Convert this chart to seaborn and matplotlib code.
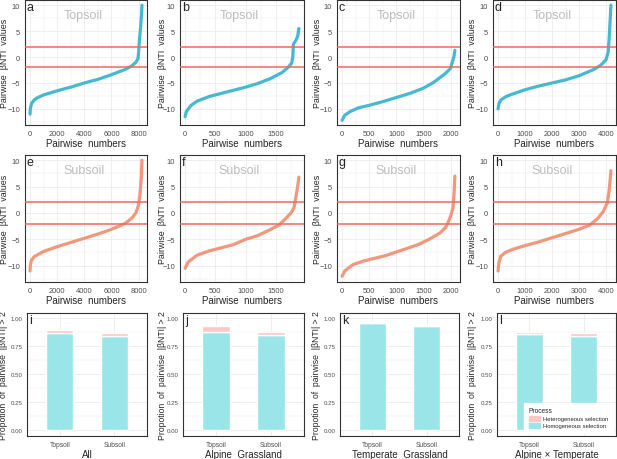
import matplotlib
matplotlib.use("Agg")
import matplotlib.pyplot as plt
from matplotlib.ticker import MultipleLocator, FormatStrFormatter
from matplotlib.patches import Patch
import seaborn as sns

# ---- data -------------------------------------------------------------
# sorted pairwise bNTI curves (pairwise index, bNTI value)
a_x = [0, 20, 100, 300, 500, 1000, 2000, 3000, 4000, 5000, 6000, 7000, 7500, 7800, 7950, 8000, 8050, 8150, 8220, 8244]
a_y = [-11, -10, -9, -8.3, -7.9, -7.3, -6.5, -5.8, -5.0, -4.3, -3.4, -2.4, -1.7, -1.0, -0.3, 1, 3, 6, 8.5, 10]
b_x = [0, 20, 100, 200, 400, 600, 800, 1000, 1200, 1400, 1600, 1700, 1760, 1780, 1790, 1830, 1860, 1880]
b_y = [-11.5, -10.5, -9.3, -8.5, -7.6, -7.0, -6.4, -5.8, -5.1, -4.2, -3.0, -2.0, -1.2, 0, 2.5, 3.2, 4.0, 5.5]
c_x = [0, 50, 150, 300, 500, 750, 1000, 1250, 1500, 1700, 1900, 2000, 2030, 2060, 2080]
c_y = [-12.2, -11.2, -10.5, -9.8, -9.3, -8.6, -7.8, -7.0, -6.0, -4.8, -3.2, -2.2, -1.0, 0, 1.3]
d_x = [0, 30, 100, 300, 500, 1000, 1500, 2000, 2500, 3000, 3500, 3800, 4000, 4080, 4120, 4160, 4180]
d_y = [-10, -9, -8.3, -7.6, -7.2, -6.3, -5.6, -5.0, -4.4, -3.6, -2.5, -1.6, -0.5, 1, 4, 8, 10]
e_x = [0, 20, 100, 300, 1000, 2000, 3000, 4000, 5000, 6000, 7000, 7500, 7800, 8000, 8100, 8200, 8250]
e_y = [-11, -10, -9, -8.3, -7.3, -6.4, -5.6, -4.8, -4.0, -3.1, -2.0, -1.0, 0, 1.5, 3.5, 6.5, 10]
f_x = [0, 50, 200, 400, 600, 800, 1000, 1200, 1400, 1550, 1650, 1750, 1800, 1830, 1860, 1880]
f_y = [-10.5, -9.3, -8.0, -7.2, -6.6, -6.0, -5.0, -4.3, -3.2, -2.3, -1.2, 0, 1, 3, 5, 6.8]
g_x = [0, 50, 200, 400, 600, 800, 1000, 1200, 1400, 1600, 1800, 1900, 1950, 2000, 2040, 2060, 2075]
g_y = [-12, -11, -9.8, -9.1, -8.6, -8.1, -7.4, -6.7, -6.0, -5.0, -3.8, -2.8, -1.8, -0.5, 1, 3.8, 7]
h_x = [0, 30, 100, 300, 600, 1000, 1500, 2000, 2500, 3000, 3400, 3700, 3900, 4050, 4120, 4180]
h_y = [-11, -9.5, -8.2, -7.4, -6.8, -6.2, -5.5, -4.7, -3.9, -3.1, -2.3, -1.0, 0.3, 2, 4.5, 8]

layers = ["Topsoil", "Subsoil"]
# proportion of pairs with |bNTI| > 2, per group
groups = ["All", "Alpine  Grassland", "Temperate  Grassland", "Alpine × Temperate"]
homo = [[0.865, 0.84], [0.875, 0.845], [0.96, 0.93], [0.86, 0.84]]
hetero = [[0.03, 0.03], [0.05, 0.03], [0.003, 0.005], [0.02, 0.03]]

curves_top = [(a_x, a_y), (b_x, b_y), (c_x, c_y), (d_x, d_y)]
curves_sub = [(e_x, e_y), (f_x, f_y), (g_x, g_y), (h_x, h_y)]
xticks = [2000, 500, 500, 1000]
letters = "abcdefghijkl"

# ---- styling -----------------------------------------------------------
sns.set_style("white")
plt.rcParams["font.family"] = ["Liberation Sans", "DejaVu Sans"]

BLUE = "#45B8D2"
SALMON = "#F2967C"
RED = "#EE6A5E"
HOMO = "#99E5E7"
HETERO = "#FCC8C5"
GRID = "#EBEBEB"
TICK = "#4D4D4D"

W, H = 617, 460
fig = plt.figure(figsize=(W / 100, H / 100), dpi=100)

cols = [(25, 147), (180, 304), (337, 460), (493, 616)]
cols_bar = [(27, 147), (183, 304), (340, 459), (497, 616)]
rows = [(1, 126), (156, 283), (314, 437)]
# right edge of the rotated y title, in pixels from the panel's left edge
ylab_off = [-16, -13, -15, -16]
ylab_off_bar = [-19, -16, -19, -20]


def make_ax(col, row):
    l, r = col
    t, b = row
    return fig.add_axes([l / W, 1 - b / H, (r - l) / W, (b - t) / H])


def style(ax):
    for s in ax.spines.values():
        s.set_color("#333333")
        s.set_linewidth(0.8)
    ax.grid(which="major", color=GRID, lw=0.6)
    ax.grid(which="minor", color=GRID, lw=0.3)
    ax.set_axisbelow(True)
    ax.tick_params(which="major", length=2, width=0.5, color="#333333",
                   labelsize=5.4, labelcolor=TICK, pad=1.5)
    ax.tick_params(which="minor", length=0)


def curve_panel(ax, xs, ys, color, step, letter, label, off, width):
    sns.lineplot(x=xs, y=ys, color=color, lw=2.3, ax=ax)
    ax.axhline(2, color=RED, lw=1.1, zorder=3)
    ax.axhline(-2, color=RED, lw=1.1, zorder=3)
    span = xs[-1]
    ax.set_xlim(-0.045 * span, 1.045 * span)
    ax.set_ylim(-13.1, 11)
    ax.xaxis.set_major_locator(MultipleLocator(step))
    ax.xaxis.set_minor_locator(MultipleLocator(step / 2))
    ax.yaxis.set_major_locator(MultipleLocator(5))
    ax.yaxis.set_minor_locator(MultipleLocator(2.5))
    style(ax)
    ax.set_xlabel("Pairwise  numbers", fontsize=7, labelpad=0.5)
    ax.set_ylabel("Pairwise  βNTI  values", fontsize=6.4)
    ax.yaxis.set_label_coords(off / width, 0.5)
    ax.text(0.015, 0.995, letter, transform=ax.transAxes, fontsize=9,
            ha="left", va="top")
    ax.text(0.48, 0.88, label, transform=ax.transAxes, fontsize=9,
            color="#BDBDBD", ha="center", va="center")


for i in range(4):
    w = cols[i][1] - cols[i][0]
    ax = make_ax(cols[i], rows[0])
    xs, ys = curves_top[i]
    curve_panel(ax, xs, ys, BLUE, xticks[i], letters[i], "Topsoil", ylab_off[i], w)

    ax = make_ax(cols[i], rows[1])
    xs, ys = curves_sub[i]
    curve_panel(ax, xs, ys, SALMON, xticks[i], letters[i + 4], "Subsoil", ylab_off[i], w)

    wb = cols_bar[i][1] - cols_bar[i][0]
    ax = make_ax(cols_bar[i], rows[2])
    sns.barplot(x=layers, y=homo[i], color=HOMO, width=0.5, ax=ax,
                saturation=1, zorder=2)
    ax.bar([0, 1], hetero[i], bottom=homo[i], width=0.5, color=HETERO, zorder=2)
    ax.set_xlim(-0.6, 1.6)
    ax.set_ylim(-0.05, 1.045)
    ax.yaxis.set_major_locator(MultipleLocator(0.25))
    ax.yaxis.set_minor_locator(MultipleLocator(0.125))
    ax.yaxis.set_major_formatter(FormatStrFormatter("%.2f"))
    style(ax)
    ax.tick_params(axis="x", labelsize=4.8)
    ax.tick_params(axis="y", labelsize=4.4, pad=1)
    ax.set_xlabel(groups[i], fontsize=7, labelpad=1)
    ax.set_ylabel("Propotion  of  pairwise  |βNTI| > 2", fontsize=6.2)
    ax.yaxis.set_label_coords(ylab_off_bar[i] / wb, 0.5)
    ax.text(0.015, 0.995, letters[i + 8], transform=ax.transAxes, fontsize=9,
            ha="left", va="top")
    if i == 3:
        handles = [Patch(color=HETERO, label="Heterogeneous selection"),
                   Patch(color=HOMO, label="Homogeneous selection")]
        leg = ax.legend(handles=handles, title="Process", loc="lower right",
                        fontsize=4.2, title_fontsize=4.8, frameon=True,
                        framealpha=1, edgecolor="white", fancybox=False,
                        handlelength=2.0, handleheight=0.8, handletextpad=0.5,
                        borderpad=0.8, labelspacing=0.3,
                        bbox_to_anchor=(1.0, 0.0))
        leg._legend_box.align = "left"

fig.savefig("out.png", dpi=100)
